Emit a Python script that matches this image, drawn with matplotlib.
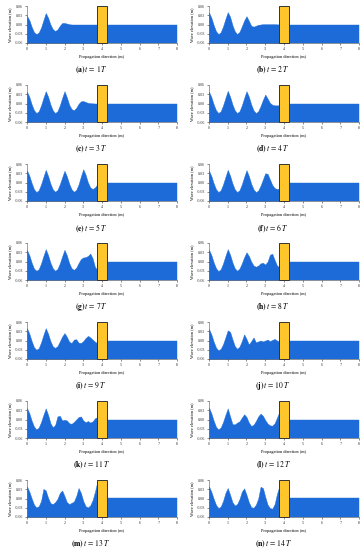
import numpy as np
import matplotlib
matplotlib.use("Agg")
import matplotlib.pyplot as plt
from matplotlib.patches import Rectangle

plt.rcParams['font.family'] = ['Liberation Serif', 'DejaVu Serif']
plt.rcParams['mathtext.fontset'] = 'stix'

# wave elevation, every 0.125 m from 0 to 3.75 m
x_wave = np.linspace(0, 3.75, 31)
x_right = [4.25, 5.0, 6.0, 7.0, 8.0]
structure = (3.75, 4.25)

y_a = [0.028, 0.014, -0.008, -0.025, -0.031, -0.026, -0.010, 0.014,
       0.037, 0.022, 0.000, -0.015, -0.021, -0.016, -0.004, 0.005,
       0.005, 0.003, 0.001, 0.000, 0.000, 0.000, 0.000, 0.000,
       0.000, 0.000, 0.000, 0.000, 0.000, 0.000, 0.000]
y_b = [0.039, 0.022, -0.002, -0.022, -0.031, -0.025, -0.006, 0.018,
       0.040, 0.025, -0.002, -0.022, -0.031, -0.024, -0.006, 0.013,
       0.027, 0.012, -0.004, -0.007, -0.004, -0.001, 0.000, 0.001,
       0.001, 0.001, 0.001, 0.001, 0.001, 0.0005, 0.000]
y_c = [0.038, 0.021, -0.003, -0.022, -0.031, -0.025, -0.006, 0.018,
       0.040, 0.022, -0.003, -0.022, -0.031, -0.025, -0.006, 0.018,
       0.040, 0.020, -0.004, -0.018, -0.022, -0.014, -0.001, 0.007,
       0.008, 0.005, 0.002, 0.001, 0.0005, 0.000, 0.000]
y_d = [0.038, 0.021, -0.003, -0.022, -0.031, -0.025, -0.006, 0.018,
       0.041, 0.022, -0.003, -0.022, -0.031, -0.025, -0.006, 0.018,
       0.040, 0.022, -0.003, -0.022, -0.031, -0.025, -0.008, 0.012,
       0.029, 0.016, 0.002, -0.004, -0.006, -0.006, -0.006]
y_e = [0.039, 0.022, -0.002, -0.022, -0.031, -0.025, -0.006, 0.018,
       0.041, 0.021, -0.004, -0.022, -0.030, -0.024, -0.006, 0.017,
       0.038, 0.020, -0.004, -0.022, -0.030, -0.024, -0.006, 0.020,
       0.043, 0.025, 0.000, -0.016, -0.021, -0.016, -0.006]
y_f = [0.038, 0.021, -0.003, -0.022, -0.031, -0.025, -0.006, 0.018,
       0.041, 0.022, -0.003, -0.022, -0.031, -0.025, -0.006, 0.018,
       0.040, 0.021, -0.004, -0.022, -0.031, -0.026, -0.010, 0.010,
       0.030, 0.028, 0.010, -0.008, -0.018, -0.021, -0.020]
y_g = [0.037, 0.020, -0.004, -0.023, -0.030, -0.025, -0.006, 0.018,
       0.040, 0.021, -0.004, -0.022, -0.030, -0.024, -0.006, 0.017,
       0.038, 0.020, -0.005, -0.022, -0.027, -0.020, -0.005, 0.008,
       0.013, 0.014, 0.018, 0.026, 0.010, -0.018, -0.027]
y_h = [0.038, 0.021, -0.003, -0.022, -0.031, -0.025, -0.006, 0.018,
       0.040, 0.022, -0.003, -0.022, -0.030, -0.023, -0.006, 0.014,
       0.030, 0.018, 0.000, -0.013, -0.017, -0.013, -0.006, -0.004,
       -0.010, 0.000, 0.022, 0.025, 0.005, -0.013, -0.019]
y_i = [0.040, 0.022, -0.002, -0.022, -0.030, -0.025, -0.006, 0.018,
       0.040, 0.022, -0.002, -0.019, -0.024, -0.018, -0.003, 0.013,
       0.024, 0.012, -0.004, -0.008, 0.003, 0.004, -0.007, -0.008,
       -0.002, 0.008, 0.015, 0.010, 0.003, -0.004, -0.009]
y_j = [0.037, 0.020, -0.004, -0.023, -0.032, -0.027, -0.012, 0.010,
       0.033, 0.028, 0.004, -0.018, -0.027, -0.020, -0.002, 0.020,
       0.005, -0.013, -0.002, 0.010, -0.006, -0.003, 0.000, -0.003,
       0.000, 0.003, -0.002, 0.002, 0.005, 0.000, -0.003]
y_k = [0.037, 0.020, -0.004, -0.023, -0.032, -0.026, -0.008, 0.015,
       0.036, 0.015, -0.012, -0.025, -0.018, 0.010, 0.012, -0.003,
       -0.001, -0.003, -0.012, -0.014, -0.008, 0.000, 0.008, 0.010,
       -0.003, -0.009, -0.005, -0.010, -0.006, 0.004, 0.008]
y_l = [0.038, 0.020, -0.004, -0.024, -0.032, -0.026, -0.008, 0.015,
       0.036, 0.010, -0.015, -0.016, -0.010, -0.006, 0.006, 0.017,
       0.008, -0.010, -0.021, -0.017, -0.005, 0.010, 0.019, 0.012,
       -0.002, -0.013, -0.019, -0.020, -0.012, 0.006, 0.025]
y_m = [0.039, 0.022, 0.000, -0.020, -0.029, -0.025, -0.008, 0.031,
       0.026, 0.002, -0.015, -0.018, -0.012, -0.001, 0.018, 0.026,
       0.008, -0.012, -0.018, -0.014, -0.010, 0.008, 0.034, 0.018,
       -0.008, -0.025, -0.029, -0.022, -0.005, 0.022, 0.055]
y_n = [0.039, 0.022, -0.001, -0.021, -0.031, -0.026, -0.008, 0.018,
       0.034, 0.012, -0.012, -0.023, -0.018, -0.002, 0.022, 0.033,
       0.012, -0.012, -0.028, -0.030, -0.020, 0.000, 0.038, 0.034,
       0.005, -0.020, -0.031, -0.033, -0.018, 0.015, 0.040]

waves = [y_a, y_b, y_c, y_d, y_e, y_f, y_g, y_h, y_i, y_j, y_k, y_l, y_m, y_n]
y_right = [0.0, 0.0, 0.0, 0.0, 0.0]
letters = list("abcdefghijklmn")
periods = list(range(1, 15))

blue = '#1c6bd8'
yellow = '#ffc62b'

fig = plt.figure(figsize=(3.64, 5.5), dpi=100)
W, H = 364, 550

for k, yw in enumerate(waves):
    row, col = k // 2, k % 2
    left = 27 if col == 0 else 209
    top = 6 + 79 * row
    ax = fig.add_axes([left / W, 1 - (top + 37) / H, 150 / W, 37 / H])
    ax.fill_between(x_wave, -0.06, yw, color=blue, lw=0.3)
    ax.fill_between(x_right, -0.06, y_right, color=blue, lw=0.3)
    ax.add_patch(Rectangle((structure[0], -0.06), structure[1] - structure[0], 0.12,
                           facecolor=yellow, edgecolor='#333333', lw=0.7, zorder=3,
                           clip_on=False))
    ax.set_xlim(0, 8)
    ax.set_ylim(-0.06, 0.06)
    ax.set_xticks(range(0, 9))
    ax.set_yticks([-0.06, -0.03, 0.0, 0.03, 0.06])
    ax.set_yticklabels(['-0.06', '-0.03', '0.00', '0.03', '0.06'])
    ax.tick_params(labelsize=3, length=1.5, width=0.4, pad=1.5, colors='#333333')
    for s in ['top', 'right']:
        ax.spines[s].set_visible(False)
    for s in ['left', 'bottom']:
        ax.spines[s].set_linewidth(0.4)
        ax.spines[s].set_color('#555555')
    ax.set_xlabel('Propagation direction (m)', fontsize=3.2, labelpad=2.5)
    ax.set_ylabel('Wave elevation (m)', fontsize=3.2, labelpad=2)
    cx = 91 if col == 0 else 273
    fig.text(cx / W, 1 - (top + 64) / H,
             r'$\mathbf{(%s)}\,t\,=\,%d\,T$' % (letters[k], periods[k]),
             ha='center', va='center', fontsize=5.5)

fig.savefig('out.png', dpi=100)
